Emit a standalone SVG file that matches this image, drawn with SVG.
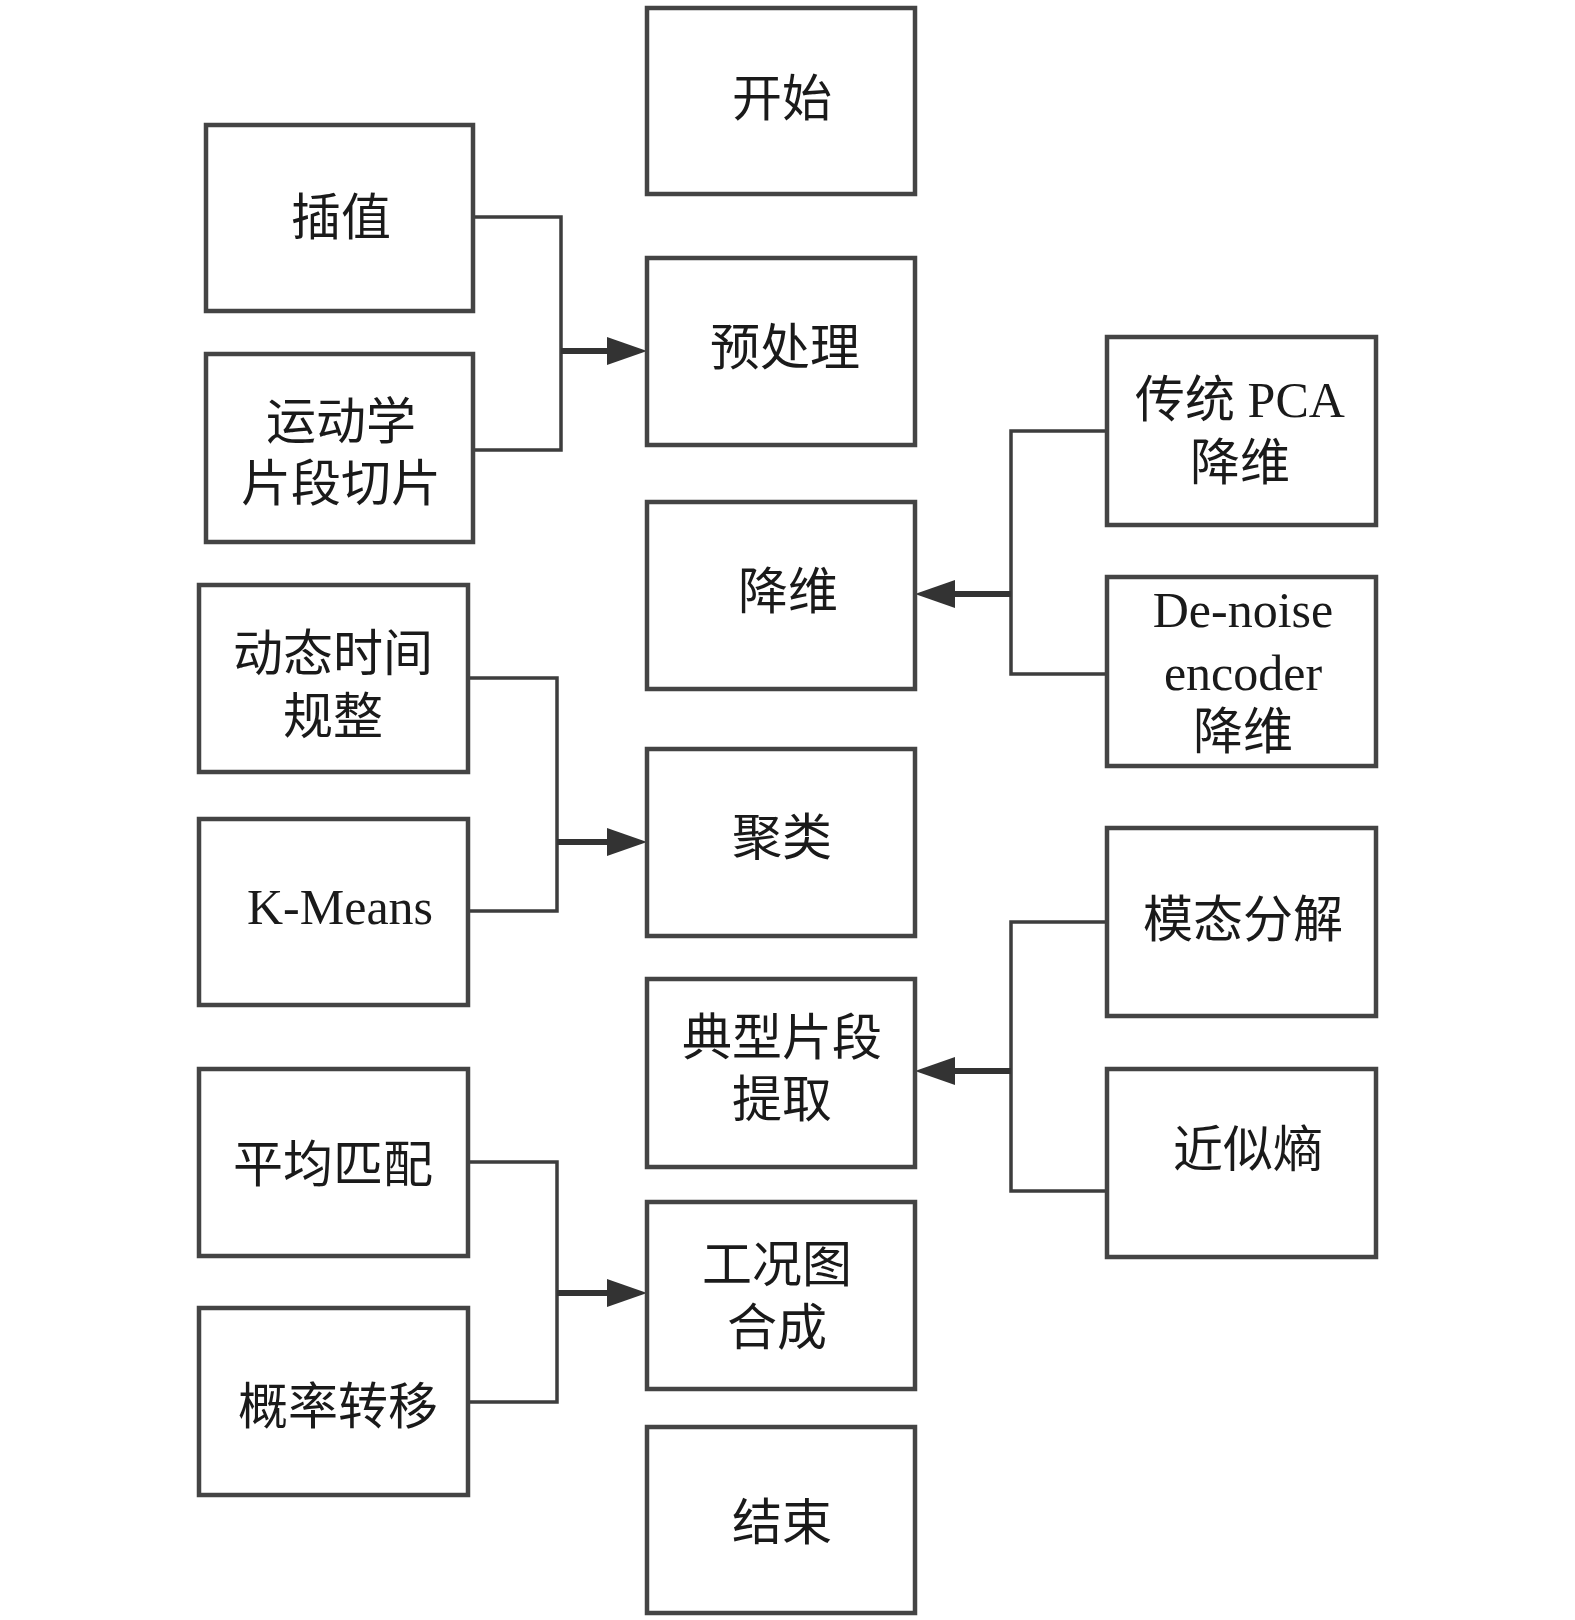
<svg xmlns="http://www.w3.org/2000/svg" width="1575" height="1620" viewBox="0 0 1575 1620">
<style>
.box{fill:#fff;stroke:#444;stroke-width:4.5}
.t{font-family:"Liberation Serif","Noto Sans CJK SC",serif;font-size:50px;fill:#1a1a1a;text-anchor:middle}
.ln{fill:none;stroke:#3d3d3d;stroke-width:3.5}
.sh{fill:none;stroke:#333;stroke-width:6}
.ah{fill:#333}
</style>
<rect width="1575" height="1620" fill="#fff"/>
<g id="connectors">
<path class="ln" d="M473,217 H561 V450 H473"/>
<line class="sh" x1="561" y1="351" x2="612" y2="351"/>
<polygon class="ah" points="607,337 647,351 607,365"/>
<path class="ln" d="M1107,431 H1011 V674 H1107"/>
<line class="sh" x1="1011" y1="594" x2="950" y2="594"/>
<polygon class="ah" points="955,580 915,594 955,608"/>
<path class="ln" d="M468,678 H557 V911 H468"/>
<line class="sh" x1="557" y1="842" x2="612" y2="842"/>
<polygon class="ah" points="607,828 647,842 607,856"/>
<path class="ln" d="M1107,922 H1011 V1191 H1107"/>
<line class="sh" x1="1011" y1="1071" x2="950" y2="1071"/>
<polygon class="ah" points="955,1057 915,1071 955,1085"/>
<path class="ln" d="M468,1162 H557 V1402 H468"/>
<line class="sh" x1="557" y1="1293" x2="612" y2="1293"/>
<polygon class="ah" points="607,1279 647,1293 607,1307"/>
</g>
<g id="n-start"><rect class="box" x="647" y="8" width="268" height="186"/><text class="t" x="782" y="116">开始</text></g>
<g id="n-pre"><rect class="box" x="647" y="258" width="268" height="187"/><text class="t" x="785" y="365">预处理</text></g>
<g id="n-dim"><rect class="box" x="647" y="502" width="268" height="187"/><text class="t" x="788" y="609">降维</text></g>
<g id="n-cluster"><rect class="box" x="647" y="749" width="268" height="187"/><text class="t" x="782" y="855">聚类</text></g>
<g id="n-typical"><rect class="box" x="647" y="979" width="268" height="188"/><text class="t" x="782" y="1055">典型片段</text><text class="t" x="782" y="1117">提取</text></g>
<g id="n-synth"><rect class="box" x="647" y="1202" width="268" height="187"/><text class="t" x="777" y="1282">工况图</text><text class="t" x="777" y="1345">合成</text></g>
<g id="n-end"><rect class="box" x="647" y="1427" width="268" height="186"/><text class="t" x="782" y="1540">结束</text></g>
<g id="n-interp"><rect class="box" x="206" y="125" width="267" height="186"/><text class="t" x="341" y="235">插值</text></g>
<g id="n-slice"><rect class="box" x="206" y="354" width="267" height="188"/><text class="t" x="341" y="439">运动学</text><text class="t" x="341" y="501">片段切片</text></g>
<g id="n-dtw"><rect class="box" x="199" y="585" width="269" height="187"/><text class="t" x="333" y="671">动态时间</text><text class="t" x="333" y="734">规整</text></g>
<g id="n-kmeans"><rect class="box" x="199" y="819" width="269" height="186"/><text class="t" x="340" y="924">K-Means</text></g>
<g id="n-avg"><rect class="box" x="199" y="1069" width="269" height="187"/><text class="t" x="333" y="1182">平均匹配</text></g>
<g id="n-prob"><rect class="box" x="199" y="1308" width="269" height="187"/><text class="t" x="338" y="1424">概率转移</text></g>
<g id="n-pca"><rect class="box" x="1107" y="337" width="269" height="188"/><text class="t" x="1240" y="417">传统 PCA</text><text class="t" x="1240" y="480">降维</text></g>
<g id="n-dae"><rect class="box" x="1107" y="577" width="269" height="189"/><text class="t" x="1243" y="627">De-noise</text><text class="t" x="1243" y="690">encoder</text><text class="t" x="1243" y="749">降维</text></g>
<g id="n-modal"><rect class="box" x="1107" y="828" width="269" height="188"/><text class="t" x="1243" y="937">模态分解</text></g>
<g id="n-apen"><rect class="box" x="1107" y="1069" width="269" height="188"/><text class="t" x="1248" y="1167">近似熵</text></g>
</svg>
